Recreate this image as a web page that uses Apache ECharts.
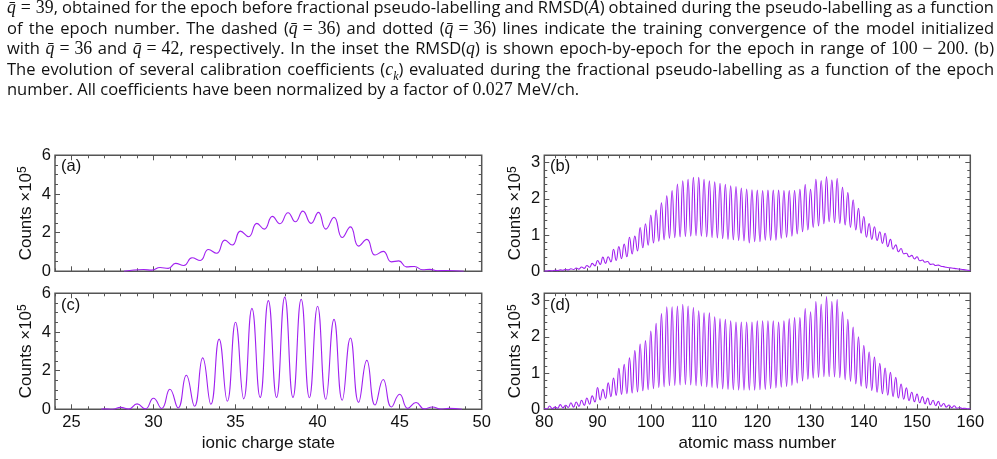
<!DOCTYPE html>
<html>
<head>
<meta charset="utf-8">
<script src="https://cdn.jsdelivr.net/npm/echarts@6/dist/echarts.min.js"></script>
<style>
  html, body { margin: 0; padding: 0; background: #fff; }
  #chart { position: absolute; left: 0; top: 0; width: 997px; height: 459px; }
  #caption { position: absolute; left: 7px; top: -3px; width: 987px; font-family: "Open Sans", Lato, sans-serif;
             font-size: 16.5px; line-height: 20.6px; color: #111; z-index: 2; }
  #caption div { white-space: nowrap; text-align: left; }
  .m { font-family: "Liberation Serif", "DejaVu Serif", serif; font-size: 17.8px; }
  .m sub { font-size: 12px; line-height: 0; }
  .op { margin: 0 0.28em; }
</style>
</head>
<body>
<div id="chart"></div>
<div id="caption">
  <div class="j"><span class="m"><i>q̄</i><span class="op">=</span>39</span>, obtained for the epoch before fractional pseudo-labelling and RMSD(<span class="m"><i>A</i></span>) obtained during the pseudo-labelling as a function</div>
  <div class="j">of the epoch number. The dashed (<span class="m"><i>q̄</i><span class="op">=</span>36</span>) and dotted (<span class="m"><i>q̄</i><span class="op">=</span>36</span>) lines indicate the training convergence of the model initialized</div>
  <div class="j">with <span class="m"><i>q̄</i><span class="op">=</span>36</span> and <span class="m"><i>q̄</i><span class="op">=</span>42</span>, respectively. In the inset the RMSD(<span class="m"><i>q</i></span>) is shown epoch-by-epoch for the epoch in range of <span class="m">100<span class="op">−</span>200</span>. (b)</div>
  <div class="j">The evolution of several calibration coefficients (<span class="m"><i>c</i><sub><i>k</i></sub></span>) evaluated during the fractional pseudo-labelling as a function of the epoch</div>
  <div>number. All coefficients have been normalized by a factor of <span class="m">0.027</span> MeV/ch.</div>
</div>
<script>
// tick labels
const chargeTicks = [25, 30, 35, 40, 45, 50];
const massTicks = [80, 90, 100, 110, 120, 130, 140, 150, 160];
const countTicksQ = [0, 2, 4, 6];
const countTicksA = [0, 1, 2, 3];

// (a) charge distribution before pseudo-labelling: peak and valley positions / heights (x1e5)
const aPeakX = [29.4, 30.4, 31.35, 32.35, 33.35, 34.35, 35.3, 36.3, 37.25, 38.2, 39.1, 40.05, 41.0, 42.0, 43.0, 44.0, 44.95, 45.9, 46.85, 47.8];
const aPeak = [0.09, 0.2, 0.41, 0.70, 1.13, 1.61, 2.08, 2.48, 2.84, 3.03, 3.11, 3.05, 2.79, 2.30, 1.65, 1.03, 0.54, 0.25, 0.10, 0.04];
const aValleyX = [28.2, 29.9, 30.9, 31.85, 32.85, 33.85, 34.8, 35.8, 36.75, 37.7, 38.65, 39.6, 40.5, 41.5, 42.5, 43.5, 44.5, 45.4, 46.4, 47.3, 48.9];
const aValley = [0.0, 0.06, 0.15, 0.30, 0.56, 0.93, 1.36, 1.79, 2.18, 2.46, 2.56, 2.48, 2.18, 1.75, 1.30, 0.84, 0.49, 0.23, 0.08, 0.03, 0.0];

// (c) charge distribution after pseudo-labelling
const cPeakX = [27, 28, 29, 30, 31, 32, 33, 34, 35, 36, 37, 38, 39, 40, 41, 42, 43, 44, 45, 46, 47, 48];
const cPeak = [0.02, 0.1, 0.28, 0.57, 1.04, 1.76, 2.66, 3.63, 4.5, 5.22, 5.62, 5.8, 5.69, 5.33, 4.65, 3.69, 2.53, 1.54, 0.78, 0.35, 0.12, 0.05];
const cValleyX = [26.8, 27.5, 28.5, 29.5, 30.5, 31.5, 32.5, 33.5, 34.5, 35.5, 36.5, 37.5, 38.5, 39.5, 40.5, 41.5, 42.5, 43.5, 44.5, 45.5, 46.5, 47.5, 48.8];
const cValley = [0, 0, 0.01, 0.02, 0.04, 0.07, 0.16, 0.26, 0.42, 0.54, 0.61, 0.61, 0.61, 0.6, 0.52, 0.47, 0.36, 0.22, 0.12, 0.05, 0.02, 0.01, 0];

// mass numbers 80..160 (peaks), valleys sit between neighbouring masses
const massNumbers = [];
for (let a = 80; a <= 160; a++) massNumbers.push(a);

// (b) mass distribution before pseudo-labelling
const bPeak = [0.01, 0.02, 0.03, 0.04, 0.05, 0.07, 0.09, 0.12, 0.16, 0.22,
  0.30, 0.39, 0.40, 0.61, 0.68, 0.75, 0.94, 0.97, 1.21, 1.31,
  1.55, 1.69, 1.89, 2.08, 2.23, 2.41, 2.50, 2.54, 2.59, 2.59,
  2.54, 2.50, 2.47, 2.43, 2.40, 2.36, 2.34, 2.30, 2.27, 2.25,
  2.24, 2.23, 2.24, 2.24, 2.24, 2.23, 2.23, 2.23, 2.26, 2.39,
  2.26, 2.54, 2.50, 2.61, 2.52, 2.56, 2.32, 2.17, 1.97, 1.74,
  1.51, 1.32, 1.23, 1.09, 1.05, 0.88, 0.73, 0.63, 0.50, 0.44,
  0.40, 0.31, 0.27, 0.20, 0.17, 0.13, 0.10, 0.08, 0.06, 0.04,
  0.02];
const bValley = [0.005, 0.01, 0.02, 0.03, 0.04, 0.05, 0.06, 0.08, 0.11, 0.15,
  0.19, 0.22, 0.26, 0.30, 0.35, 0.40, 0.48, 0.56, 0.65, 0.72,
  0.78, 0.83, 0.87, 0.91, 0.93, 0.95, 0.96, 0.97, 0.98, 0.97,
  0.95, 0.93, 0.92, 0.90, 0.88, 0.87, 0.85, 0.84, 0.78, 0.82,
  0.82, 0.86, 0.85, 0.86, 0.91, 0.94, 0.97, 1.03, 1.09, 1.14,
  1.21, 1.25, 1.31, 1.37, 1.34, 1.32, 1.28, 1.21, 1.14, 1.05,
  0.94, 0.88, 0.85, 0.77, 0.68, 0.61, 0.54, 0.48, 0.40, 0.34,
  0.29, 0.25, 0.19, 0.16, 0.14, 0.11, 0.09, 0.07, 0.05, 0.03];

// (d) mass distribution after pseudo-labelling
const dPeak = [0.02, 0.09, 0.06, 0.13, 0.11, 0.18, 0.20, 0.25, 0.31, 0.37,
  0.60, 0.55, 0.73, 0.86, 1.13, 1.24, 1.42, 1.62, 1.80, 1.90,
  2.16, 2.37, 2.64, 2.83, 2.83, 2.85, 2.90, 2.85, 2.81, 2.72,
  2.66, 2.66, 2.55, 2.50, 2.48, 2.44, 2.41, 2.41, 2.41, 2.41,
  2.44, 2.44, 2.44, 2.44, 2.41, 2.44, 2.50, 2.53, 2.53, 2.78,
  2.69, 2.97, 2.90, 3.11, 2.97, 3.03, 2.69, 2.48, 2.27, 2.00,
  1.76, 1.58, 1.44, 1.27, 1.14, 1.02, 0.88, 0.70, 0.59, 0.47,
  0.42, 0.35, 0.31, 0.25, 0.22, 0.16, 0.12, 0.10, 0.05, 0.03,
  0.02];
const dValley = [0.01, 0.02, 0.03, 0.04, 0.05, 0.06, 0.08, 0.11, 0.14, 0.20,
  0.26, 0.30, 0.35, 0.38, 0.41, 0.43, 0.45, 0.48, 0.51, 0.54,
  0.57, 0.60, 0.62, 0.65, 0.66, 0.67, 0.68, 0.67, 0.65, 0.64,
  0.62, 0.60, 0.58, 0.56, 0.55, 0.54, 0.53, 0.53, 0.53, 0.53,
  0.54, 0.55, 0.57, 0.59, 0.61, 0.63, 0.66, 0.72, 0.78, 0.83,
  0.86, 0.88, 0.90, 0.90, 0.89, 0.87, 0.82, 0.77, 0.70, 0.64,
  0.58, 0.52, 0.47, 0.43, 0.39, 0.35, 0.31, 0.28, 0.24, 0.21,
  0.18, 0.15, 0.125, 0.10, 0.08, 0.06, 0.04, 0.03, 0.02, 0.01];

const massValleyX = massNumbers.slice(0, -1).map(a => a + 0.5);

function wave(px, py, vx, vy) {
  const pts = px.map((x, i) => [x, py[i]]).concat(vx.map((x, i) => [x, vy[i]]));
  pts.sort((p, q) => p[0] - q[0]);
  return pts;
}

// justify caption lines to the full width (TeX-like: spaces may also shrink)
document.querySelectorAll('#caption div.j').forEach(function (div) {
  const range = document.createRange();
  range.selectNodeContents(div);
  const natural = range.getBoundingClientRect().width;
  const spaces = (div.textContent.trim().match(/ /g) || []).length;
  div.style.wordSpacing = ((987 - natural) / spaces) + 'px';
});

const font = 'Liberation Sans';
const frameColor = '#555';
const textColor = '#111';
const lineColor = '#a020f0';

const grids = [
  { left: 55, top: 155.3, width: 426.7, height: 116 },   // (a)
  { left: 544.3, top: 155.3, width: 426, height: 116 },  // (b)
  { left: 55, top: 293.3, width: 426.7, height: 116 },   // (c)
  { left: 544.3, top: 293.3, width: 426, height: 116 }   // (d)
].map(g => Object.assign(g, { show: true, borderColor: frameColor, borderWidth: 1.5, backgroundColor: 'transparent' }));

const xAxes = [];
const yAxes = [];

function addAxes(list, grid, pos, mirror, min, max, majors, minorStep, labels, name, nameGap) {
  const base = { gridIndex: grid, type: 'value', min: min, max: max,
    axisLine: { show: false, onZero: false }, splitLine: { show: false } };
  const idx = list.length;
  const main = Object.assign({}, base, {
    position: pos,
    axisTick: { inside: true, length: 5, customValues: majors, lineStyle: { color: frameColor, width: 1 } },
    axisLabel: { show: labels, customValues: majors, color: textColor, fontFamily: font, fontSize: 16.5,
                 margin: list === yAxes ? 4 : 5 }
  });
  if (name) {
    Object.assign(main, { name: name, nameLocation: 'middle', nameGap: nameGap,
      nameTextStyle: { color: textColor, fontFamily: font, fontSize: 17,
        rich: { a: { fontFamily: font, fontSize: 17, color: textColor, lineHeight: 19 },
                s: { fontFamily: font, fontSize: 12, color: textColor, verticalAlign: 'top', lineHeight: 19 } } } });
  }
  list.push(main);
  const minorTick = { inside: true, length: 3, lineStyle: { color: frameColor, width: 1 } };
  list.push(Object.assign({}, base, { position: pos, interval: minorStep, axisTick: minorTick, axisLabel: { show: false } }));
  list.push(Object.assign({}, base, { position: mirror,
    axisTick: { inside: true, length: 5, customValues: majors, lineStyle: { color: frameColor, width: 1 } },
    axisLabel: { show: false } }));
  list.push(Object.assign({}, base, { position: mirror, interval: minorStep, axisTick: minorTick, axisLabel: { show: false } }));
  return idx;
}

const countName = '{a|Counts ×10}{s|5}';
// x axes
const xa = addAxes(xAxes, 0, 'bottom', 'top', 24, 50, chargeTicks, 1, false);
const xb = addAxes(xAxes, 1, 'bottom', 'top', 80, 160, massTicks, 2, false);
const xc = addAxes(xAxes, 2, 'bottom', 'top', 24, 50, chargeTicks, 1, true, 'ionic charge state', 26);
const xd = addAxes(xAxes, 3, 'bottom', 'top', 80, 160, massTicks, 2, true, 'atomic mass number', 26);
// y axes
const ya = addAxes(yAxes, 0, 'left', 'right', 0, 6, countTicksQ, 0.5, true, countName, 19);
const yb = addAxes(yAxes, 1, 'left', 'right', 0, 3.2, countTicksA, 0.2, true, countName, 19);
const yc = addAxes(yAxes, 2, 'left', 'right', 0, 6, countTicksQ, 0.5, true, countName, 19);
const yd = addAxes(yAxes, 3, 'left', 'right', 0, 3.2, countTicksA, 0.2, true, countName, 19);

function lineSeries(xi, yi, data) {
  return { type: 'line', xAxisIndex: xi, yAxisIndex: yi, data: data, smooth: true,
    showSymbol: false, symbol: 'none', lineStyle: { color: lineColor, width: 1.1 }, clip: true };
}

function panelLabel(text, left, top) {
  return { text: text, left: left, top: top, padding: 0,
    textStyle: { fontFamily: font, fontSize: 16.5, fontWeight: 'normal', color: textColor } };
}

const chart = echarts.init(document.getElementById('chart'), null, { renderer: 'canvas' });
chart.setOption({
  animation: false,
  backgroundColor: '#fff',
  title: [panelLabel('(a)', 61, 158), panelLabel('(b)', 550, 158), panelLabel('(c)', 61, 297), panelLabel('(d)', 550, 297)],
  grid: grids,
  xAxis: xAxes,
  yAxis: yAxes,
  series: [
    lineSeries(xa, ya, wave(aPeakX, aPeak, aValleyX, aValley)),
    lineSeries(xb, yb, wave(massNumbers, bPeak, massValleyX, bValley)),
    lineSeries(xc, yc, wave(cPeakX, cPeak, cValleyX, cValley)),
    lineSeries(xd, yd, wave(massNumbers, dPeak, massValleyX, dValley))
  ]
});
</script>
</body>
</html>
